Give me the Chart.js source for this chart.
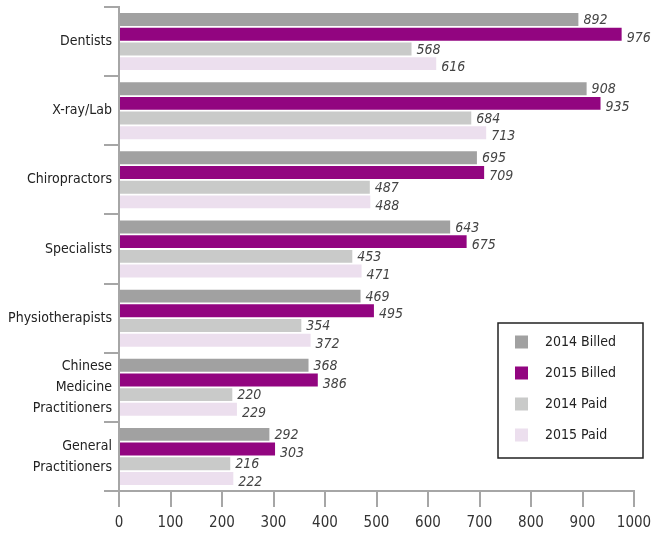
<!DOCTYPE html>
<html>
<head>
<meta charset="utf-8">
<script src="https://cdn.jsdelivr.net/npm/chart.js@4/dist/chart.umd.min.js"></script>
<style>
  html, body { margin: 0; padding: 0; background: #fff; }
</style>
</head>
<body>
<canvas id="chart" width="652" height="536"></canvas>
<script>
const categories = [
    'Dentists',
    'X-ray/Lab',
    'Chiropractors',
    'Specialists',
    'Physiotherapists',
    ['Chinese', 'Medicine', 'Practitioners'],
    ['General', 'Practitioners']
];
const seriesNames = ['2014 Billed', '2015 Billed', '2014 Paid', '2015 Paid'];
const billed2014 = [892, 908, 695, 643, 469, 368, 292];
const billed2015 = [976, 935, 709, 675, 495, 386, 303];
const paid2014 = [568, 684, 487, 453, 354, 220, 216];
const paid2015 = [616, 713, 488, 471, 372, 229, 222];
const xMin = 0, xMax = 1000, xStep = 100;

const colors = ['#a1a1a1', '#920580', '#c9cac9', '#ecdfee'];
const FONT = "'Liberation Sans Narrow', 'DejaVu Sans Condensed', sans-serif";
const axisGray = '#a6a6a6';

// value next to the end of every bar; the 2015 labels sit a little lower
const valueLabels = {
    id: 'valueLabels',
    afterDatasetsDraw(chart) {
        const ctx = chart.ctx;
        ctx.save();
        ctx.font = 'italic 14px ' + FONT;
        ctx.fillStyle = '#444';
        ctx.textBaseline = 'middle';
        ctx.textAlign = 'left';
        chart.data.datasets.forEach((ds, i) => {
            const dy = i % 2 ? 4 : 1;
            chart.getDatasetMeta(i).data.forEach((bar, j) => {
                ctx.fillText(ds.data[j], bar.x + 5, bar.y + dy);
            });
        });
        ctx.restore();
    }
};

// boxed legend sitting inside the plot, lower right
const boxLegend = {
    id: 'boxLegend',
    afterDraw(chart) {
        const ctx = chart.ctx;
        const left = 498, top = 323, w = 145, h = 135;
        ctx.save();
        ctx.fillStyle = '#fff';
        ctx.fillRect(left, top, w, h);
        ctx.strokeStyle = '#222';
        ctx.lineWidth = 1.5;
        ctx.strokeRect(left, top, w, h);
        ctx.font = '14px ' + FONT;
        ctx.textBaseline = 'middle';
        chart.data.datasets.forEach((ds, i) => {
            const cy = top + 19 + i * 31;
            ctx.fillStyle = ds.backgroundColor;
            ctx.fillRect(left + 17, cy - 6.5, 13, 13);
            ctx.fillStyle = '#222';
            ctx.fillText(ds.label, left + 47, cy);
        });
        ctx.restore();
    }
};

const datasets = [billed2014, billed2015, paid2014, paid2015].map((values, i) => ({
    label: seriesNames[i],
    data: values,
    backgroundColor: colors[i],
    borderWidth: 0,
    categoryPercentage: 0.85,
    barPercentage: 0.88
}));

new Chart(document.getElementById('chart').getContext('2d'), {
    type: 'bar',
    data: { labels: categories, datasets: datasets },
    options: {
        indexAxis: 'y',
        responsive: false,
        animation: false,
        layout: { padding: { top: 7, right: 18, left: 0, bottom: 0 } },
        plugins: {
            legend: { display: false },
            tooltip: { enabled: false }
        },
        scales: {
            x: {
                min: xMin,
                max: xMax,
                ticks: {
                    stepSize: xStep,
                    color: '#333',
                    font: { family: FONT, size: 15 },
                    padding: 7,
                    callback: v => String(v)
                },
                grid: {
                    drawOnChartArea: false,
                    color: axisGray,
                    lineWidth: 2,
                    tickLength: 16
                },
                border: { color: axisGray, width: 2 },
                afterFit(scale) {
                    scale.height = 45;
                    scale.paddingLeft = 0;
                    scale.paddingRight = 0;
                }
            },
            y: {
                ticks: {
                    color: '#222',
                    font: { family: FONT, size: 14, lineHeight: 1.5 },
                    padding: -8
                },
                grid: {
                    drawOnChartArea: false,
                    offset: true,
                    color: axisGray,
                    lineWidth: 2,
                    tickLength: 15
                },
                border: { color: axisGray, width: 2 },
                afterFit(scale) {
                    scale.width = 119;
                    scale.paddingTop = 0;
                    scale.paddingBottom = 0;
                }
            }
        }
    },
    plugins: [valueLabels, boxLegend]
});
</script>
</body>
</html>
